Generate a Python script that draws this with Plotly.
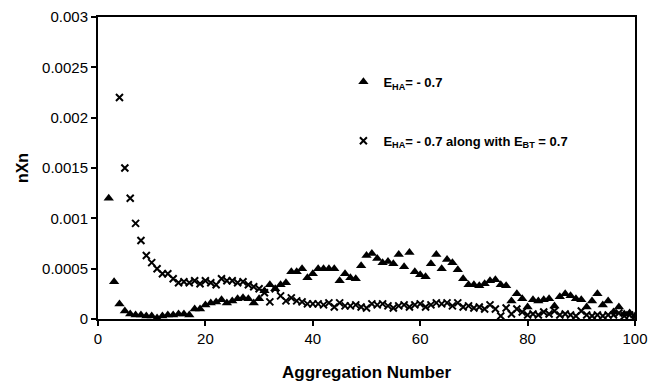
import plotly.graph_objects as go

x_a = list(range(2, 101))
y_a = [0.0012, 0.00037, 0.00015, 0.00008, 0.00005, 0.00004, 0.00004, 0.00003, 0.00003, 0.00001,
       0.00003, 0.00004, 0.00004, 0.00005, 0.00005, 0.00004, 0.0001, 0.0001, 0.00014, 0.00016,
       0.00017, 0.00019, 0.00016, 0.00018, 0.0002, 0.00021, 0.0002, 0.00016, 0.0002, 0.00028,
       0.00034, 0.0003, 0.00034, 0.00036, 0.00047, 0.00047, 0.0005, 0.00041, 0.00045, 0.0005,
       0.0005, 0.0005, 0.0005, 0.00038, 0.00045, 0.00041, 0.0004, 0.00053, 0.00063, 0.00065,
       0.0006, 0.00056, 0.00057, 0.00055, 0.00064, 0.00052, 0.00066, 0.00047, 0.00044, 0.00042,
       0.00055, 0.00064, 0.0005, 0.00059, 0.00056, 0.00049, 0.0004, 0.00034, 0.00034, 0.00033,
       0.00035, 0.00038, 0.00039, 0.00034, 0.00033, 0.00018, 0.00025, 0.0002, 0.00012, 0.00019,
       0.00018, 0.00019, 0.0002, 0.00013, 0.00022, 0.00025, 0.00023, 0.0002, 0.00019, 0.00012,
       0.00018, 0.00025, 0.00014, 0.00018, 0.00007, 0.00012, 0.00005, 0.00006, 0.00003]

x_b = list(range(4, 101))
y_b = [0.0022, 0.0015, 0.0012, 0.00095, 0.00078, 0.00063, 0.00056, 0.0005, 0.00045, 0.00045,
       0.0004, 0.00036, 0.00037, 0.00036, 0.00038, 0.00035, 0.00038, 0.00036, 0.00034, 0.0004,
       0.00038, 0.00038, 0.00036, 0.00037, 0.00034, 0.00032, 0.0003, 0.00026, 0.00017, 0.0003,
       0.00023, 0.00018, 0.00021, 0.00018, 0.00017, 0.00015, 0.00015, 0.00015, 0.00014, 0.00016,
       0.00012, 0.00016, 0.00013, 0.00013, 0.00014, 0.00012, 0.00011, 0.00015, 0.00014, 0.00015,
       0.00013, 0.00011, 0.00013, 0.00014, 0.00012, 0.00014, 0.00015, 0.00012, 0.00014, 0.00016,
       0.00015, 0.00016, 0.00013, 0.00016, 0.00012, 0.00013, 0.00011, 0.00012, 0.0001, 0.00014,
       0.0001, 0.00003, 0.00011, 0.00005, 0.0001, 0.00007, 0.00004, 0.00005, 0.00004, 0.00007,
       0.00005, 0.00008, 0.00004, 0.00005, 0.00004, 0.00003, 0.00008, 0.00004, 0.00003, 0.00004,
       0.00003, 0.00004, 0.00004, 0.00006, 0.00003, 0.00004, 0.00002]

y_tickvals = [0, 0.0005, 0.001, 0.0015, 0.002, 0.0025, 0.003]
y_ticktext = ["0", "0.0005", "0.001", "0.0015", "0.002", "0.0025", "0.003"]
x_tickvals = [0, 20, 40, 60, 80, 100]

name_a = "<b>E<sub>HA</sub>= - 0.7</b>"
name_b = "<b>E<sub>HA</sub>= - 0.7 along with E<sub>BT</sub> = 0.7</b>"

tick_font = dict(family="Liberation Sans Narrow, Liberation Sans, Arial", size=15, color="black")

fig = go.Figure()
fig.add_trace(go.Scatter(x=x_a, y=y_a, mode="markers", name=name_a, legendgroup="a",
                         marker=dict(symbol="triangle-up", size=9, color="black")))
fig.add_trace(go.Scatter(x=x_b, y=y_b, mode="markers", name=name_b, legendgroup="b",
                         marker=dict(symbol="x-thin-open", size=7, color="black",
                                     line=dict(color="black", width=2))))

fig.update_layout(
    width=649, height=387,
    margin=dict(l=98, r=14, t=17, b=68),
    paper_bgcolor="white", plot_bgcolor="white",
    font=dict(family="Liberation Sans, Arial", color="black"),
    showlegend=True,
    legend=dict(x=0.457, y=0.835, xanchor="left", yanchor="top",
                bgcolor="rgba(0,0,0,0)", tracegroupgap=39,
                font=dict(family="Liberation Sans, Arial", size=13, color="black"),
                itemwidth=30),
    xaxis=dict(range=[0, 100], tickvals=x_tickvals, ticks="outside", ticklen=5,
               tickwidth=1.5, tickcolor="black", showgrid=False, zeroline=False,
               showline=True, linecolor="black", linewidth=2, mirror=True,
               tickfont=tick_font, automargin=False,
               title=dict(text="<b>Aggregation Number</b>", standoff=20,
                          font=dict(family="Liberation Sans, Arial", size=17, color="black"))),
    yaxis=dict(range=[0, 0.003], tickvals=y_tickvals, ticktext=y_ticktext, ticks="outside",
               ticklen=5, tickwidth=1.5, tickcolor="black", showgrid=False, zeroline=False,
               showline=True, linecolor="black", linewidth=2, mirror=True,
               tickfont=tick_font, automargin=False,
               title=dict(text="<b>nXn</b>", standoff=10,
                          font=dict(family="Liberation Sans, Arial", size=16, color="black"))),
)

fig.write_html("out.html")
